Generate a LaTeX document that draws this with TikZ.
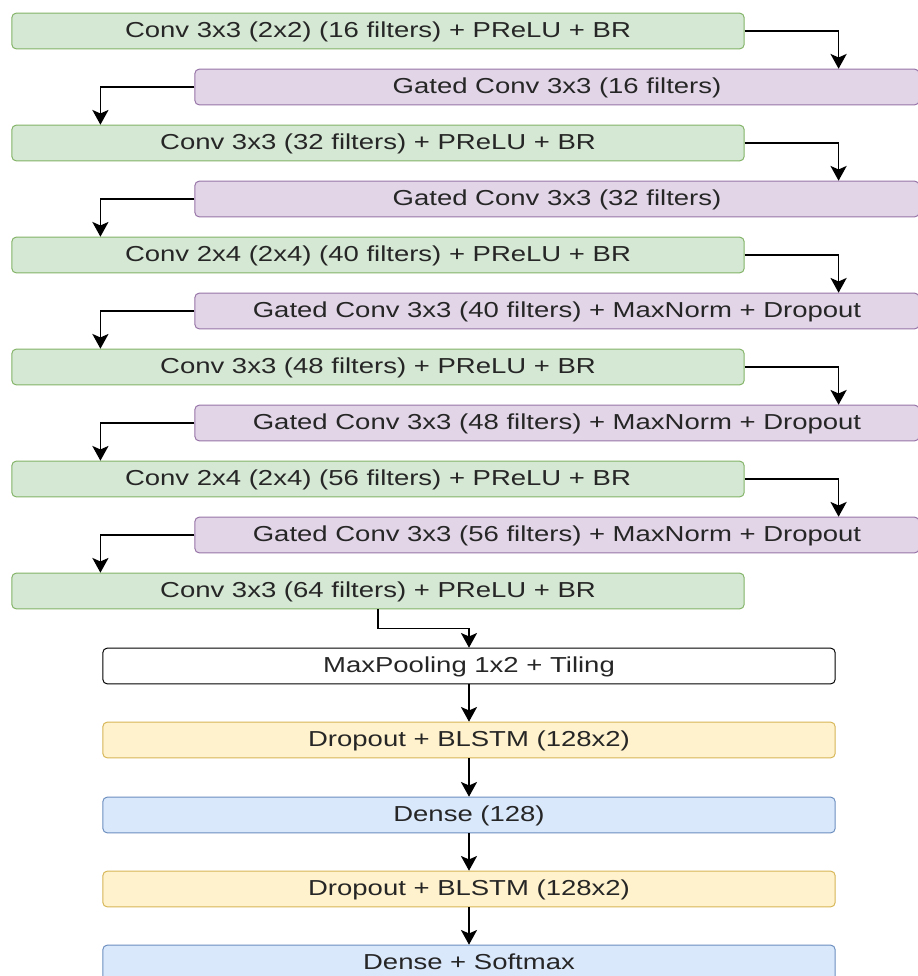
\documentclass[tikz,border=0pt]{standalone}
\usepackage{fontspec}
\setmainfont{Liberation Sans}[FakeStretch=1.27]
\usetikzlibrary{arrows.meta,calc}

\definecolor{convfill}{HTML}{D5E8D4}
\definecolor{convline}{HTML}{82B366}
\definecolor{gatefill}{HTML}{E1D5E7}
\definecolor{gateline}{HTML}{9673A6}
\definecolor{lstmfill}{HTML}{FFF2CC}
\definecolor{lstmline}{HTML}{D6B656}
\definecolor{densefill}{HTML}{DAE8FC}
\definecolor{denseline}{HTML}{6C8EBF}
\definecolor{txtgray}{HTML}{262626}

\tikzset{
  layer/.style={draw, rounded corners=3pt, line width=0.7pt, inner sep=0pt,
    text height=0.92em, text depth=0pt,
    minimum height=0.89cm, text=txtgray, font=\fontsize{15.4}{18}\selectfont},
  convbox/.style={layer, fill=convfill, draw=convline, minimum width=18.3cm},
  gatebox/.style={layer, fill=gatefill, draw=gateline, minimum width=18.1cm},
  poolbox/.style={layer, fill=white, draw=black, minimum width=18.3cm},
  lstmbox/.style={layer, fill=lstmfill, draw=lstmline, minimum width=18.3cm},
  densebox/.style={layer, fill=densefill, draw=denseline, minimum width=18.3cm},
  link/.style={-{Stealth[length=10.5pt,width=11.5pt,inset=2.5pt]}, line width=1pt}
}

\begin{document}
\begin{tikzpicture}[x=0.025cm, y=-0.025cm]
    \useasboundingbox (0,0) rectangle (918,976);

    % conv / gated conv stack
    \node[convbox] (c1) at (378,31)  {Conv 3x3 (2x2) (16 filters) + PReLU + BR};
    \node[gatebox] (g1) at (557,87)  {Gated Conv 3x3 (16 filters)};
    \node[convbox] (c2) at (378,143) {Conv 3x3 (32 filters) + PReLU + BR};
    \node[gatebox] (g2) at (557,199) {Gated Conv 3x3 (32 filters)};
    \node[convbox] (c3) at (378,255) {Conv 2x4 (2x4) (40 filters) + PReLU + BR};
    \node[gatebox] (g3) at (557,311) {Gated Conv 3x3 (40 filters) + MaxNorm + Dropout};
    \node[convbox] (c4) at (378,367) {Conv 3x3 (48 filters) + PReLU + BR};
    \node[gatebox] (g4) at (557,423) {Gated Conv 3x3 (48 filters) + MaxNorm + Dropout};
    \node[convbox] (c5) at (378,479) {Conv 2x4 (2x4) (56 filters) + PReLU + BR};
    \node[gatebox] (g5) at (557,535) {Gated Conv 3x3 (56 filters) + MaxNorm + Dropout};
    \node[convbox] (c6) at (378,591) {Conv 3x3 (64 filters) + PReLU + BR};

    % recurrent part
    \node[poolbox]  (mp)  at (469,666) {MaxPooling 1x2 + Tiling};
    \node[lstmbox]  (bl1) at (469,740) {Dropout + BLSTM (128x2)};
    \node[densebox] (dn1) at (469,815) {Dense (128)};
    \node[lstmbox]  (bl2) at (469,889) {Dropout + BLSTM (128x2)};
    \node[densebox] (dn2) at (469,963) {Dense + Softmax};

    % zig-zag connectors
    \foreach \i/\j in {1/2, 2/3, 3/4, 4/5, 5/6} {
        \draw[link] (c\i.east) -- ++(94,0) coordinate (t) -- (t |- g\i.north);
        \draw[link] (g\i.west) -- ++(-94,0) coordinate (t) -- (t |- c\j.north);
    }

    % straight connectors
    \draw[link] (c6.south) -- ++(0,19) coordinate (t) -| (mp.north);
    \draw[link] (mp) -- (bl1);
    \draw[link] (bl1) -- (dn1);
    \draw[link] (dn1) -- (bl2);
    \draw[link] (bl2) -- (dn2);
\end{tikzpicture}
\end{document}
